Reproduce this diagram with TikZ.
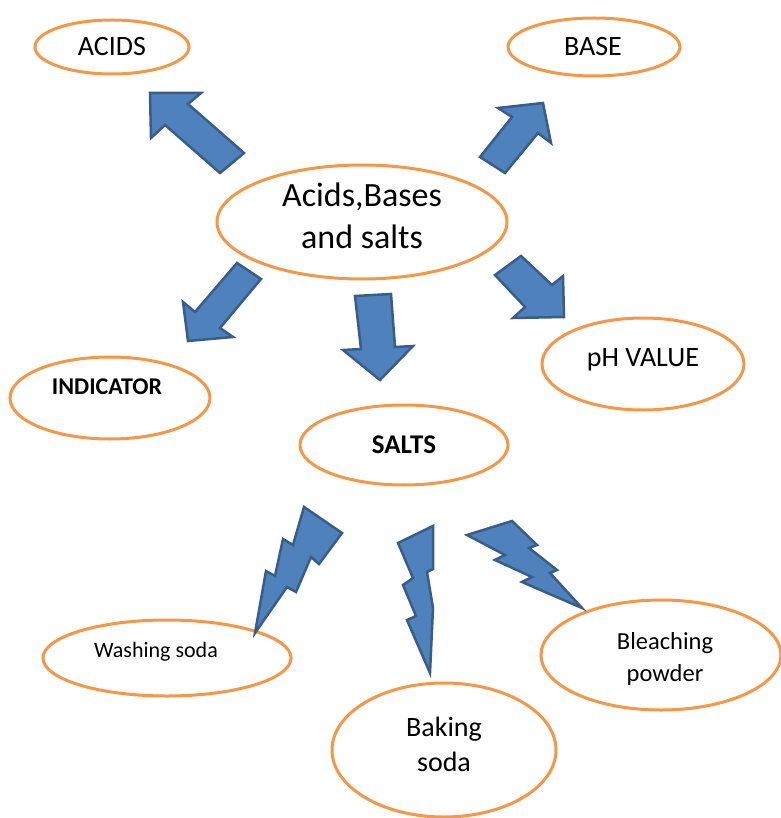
\documentclass[tikz,border=0pt]{standalone}
\usepackage{fontspec}
\setmainfont{Carlito}
\usetikzlibrary{shapes.geometric}
\definecolor{orng}{HTML}{F79646}
\definecolor{bfill}{HTML}{4F81BD}
\definecolor{bline}{HTML}{385D8A}
\tikzset{
  oval/.style={ellipse, draw=orng, line width=3pt, fill=white, inner sep=0pt},
  blockarrow/.style={fill=bfill, draw=bline, line width=2.5pt, line join=miter},
  txt/.style={inner sep=0pt, align=center}
}
\begin{document}
\begin{tikzpicture}[x=1pt,y=-1pt]
\useasboundingbox (0,0) rectangle (780,818);
% ellipses
\node[oval, minimum width=154pt, minimum height=54pt] (acids) at (112,47) {};
\node[oval, minimum width=172pt, minimum height=58pt] (base) at (594,47) {};
\node[oval, minimum width=290pt, minimum height=114pt] (main) at (362,222) {};
\node[oval, minimum width=200pt, minimum height=82pt] (indicator) at (110,398) {};
\node[oval, minimum width=208pt, minimum height=80pt] (salts) at (404,445) {};
\node[oval, minimum width=202pt, minimum height=92pt] (ph) at (643,364) {};
\node[oval, minimum width=248pt, minimum height=76pt] (washing) at (167,658) {};
\node[oval, minimum width=240pt, minimum height=110pt] (bleach) at (661,655) {};
\node[oval, minimum width=224pt, minimum height=134pt] (baking) at (444,750) {};
% texts
\node[txt, font=\fontsize{28}{28}\selectfont] (tacids) at (112,47) {ACIDS};
\node[txt, font=\fontsize{28}{28}\selectfont] (tbase) at (593,47) {BASE};
\node[txt, font=\fontsize{34}{42}\selectfont] (tmain) at (362,216) {Acids,Bases\\and salts};
\node[txt, font=\fontsize{24}{24}\selectfont\bfseries] (tind) at (107,387) {INDICATOR};
\node[txt, font=\fontsize{27}{27}\selectfont\bfseries] (tsalts) at (404,445) {SALTS};
\node[txt, font=\fontsize{28}{28}\selectfont] (tph) at (643,360) {pH VALUE};
\node[txt, font=\fontsize{22}{22}\selectfont] (twash) at (156,652) {Washing soda};
\node[txt, font=\fontsize{24.5}{32}\selectfont] (tbleach) at (665,659) {Bleaching\\powder};
\node[txt, font=\fontsize{28}{35}\selectfont] (tbaking) at (444,744) {Baking\\soda};
% block arrows
\draw[blockarrow] (150,93) -- (201,93) -- (188,104) -- (244,153) -- (220,173) -- (165,125) -- (151,138) -- cycle;
\draw[blockarrow] (498,108) -- (543,103) -- (551,143) -- (538,133) -- (505,173) -- (480,157) -- (512,117) -- cycle;
\draw[blockarrow] (237,263) -- (261,279) -- (220,328) -- (233,337) -- (188,341) -- (183,302) -- (195,312) -- cycle;
\draw[blockarrow] (355,296) -- (391,294) -- (395,347) -- (413,346) -- (380,380) -- (343,350) -- (361,349) -- cycle;
\draw[blockarrow] (495,275) -- (521,256) -- (552,285) -- (563,276) -- (564,317) -- (513,318) -- (525,307) -- cycle;
% lightning bolts
\draw[blockarrow] (304,507) -- (342,533) -- (319,564) -- (311,557) -- (296,592) -- (287,587) -- (255,633) -- (266,571) -- (275,576) -- (283,539) -- (293,545) -- cycle;
\draw[blockarrow] (398,543) -- (433,526) -- (433,569) -- (427,572) -- (433,608) -- (430,673) -- (407,620) -- (416,616) -- (403,585) -- (413,578) -- cycle;
\draw[blockarrow] (467,535) -- (512,521) -- (537,545) -- (529,548) -- (557,570) -- (550,573) -- (582,608) -- (522,582) -- (532,577) -- (495,560) -- (505,555) -- cycle;
\end{tikzpicture}
\end{document}
